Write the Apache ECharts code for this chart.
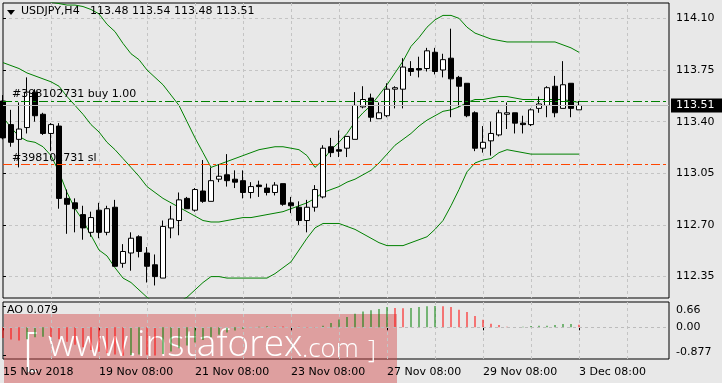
<!DOCTYPE html>
<html><head><meta charset="utf-8">
<script src="https://cdn.jsdelivr.net/npm/echarts@6/dist/echarts.min.js"></script>
<style>html,body{margin:0;padding:0;background:#e8e8e8;}#c{width:722px;height:383px;}</style>
</head><body><div id="c"></div>
<script>
const symbolName = 'USDJPY,H4';
const opens = [113.54,113.38,113.28,113.36,113.60,113.45,113.32,113.37,112.88,112.85,112.77,112.65,112.80,112.65,112.82,112.44,112.51,112.62,112.51,112.43,112.34,112.68,112.73,112.88,112.80,112.93,112.86,113.01,113.04,113.01,113.00,112.92,112.97,112.95,112.92,112.98,112.85,112.82,112.73,112.82,112.89,113.23,113.21,113.22,113.28,113.50,113.56,113.42,113.44,113.62,113.62,113.76,113.76,113.76,113.87,113.75,113.83,113.70,113.66,113.46,113.22,113.27,113.31,113.45,113.46,113.39,113.38,113.49,113.51,113.64,113.49,113.66,113.48];
const highs = [113.58,113.48,113.53,113.70,113.62,113.46,113.39,113.39,112.94,112.88,112.83,112.79,112.85,112.83,112.87,112.57,112.65,112.63,112.55,112.50,112.73,112.83,112.92,112.89,112.95,113.14,113.09,113.11,113.18,113.07,113.07,112.99,113.00,112.98,112.99,112.98,112.89,112.86,112.87,112.97,113.24,113.29,113.34,113.30,113.60,113.64,113.59,113.53,113.66,113.64,113.83,113.81,113.84,113.90,113.90,113.86,114.03,113.71,113.66,113.47,113.37,113.40,113.48,113.53,113.46,113.44,113.49,113.57,113.64,113.71,113.81,113.66,113.54];
const lows = [113.28,113.23,113.09,113.32,113.40,113.31,113.20,112.81,112.64,112.65,112.60,112.62,112.61,112.63,112.42,112.41,112.39,112.48,112.31,112.29,112.34,112.61,112.63,112.81,112.79,112.85,112.86,112.99,112.96,112.95,112.88,112.88,112.89,112.90,112.90,112.83,112.78,112.70,112.65,112.79,112.88,113.16,113.16,113.16,113.28,113.49,113.40,113.42,113.43,113.49,113.49,113.71,113.70,113.74,113.72,113.70,113.43,113.50,113.43,113.20,113.19,113.17,113.30,113.35,113.32,113.32,113.37,113.46,113.43,113.43,113.49,113.43,113.48];
const closes = [113.29,113.26,113.35,113.60,113.44,113.32,113.38,112.88,112.84,112.81,112.68,112.75,112.65,112.81,112.42,112.52,112.61,112.52,112.42,112.35,112.69,112.74,112.87,112.81,112.94,112.86,113.00,113.03,113.00,112.99,112.92,112.96,112.96,112.92,112.97,112.84,112.83,112.73,112.82,112.94,113.22,113.19,113.20,113.30,113.51,113.55,113.43,113.46,113.62,113.63,113.77,113.74,113.75,113.88,113.74,113.82,113.69,113.64,113.44,113.22,113.26,113.32,113.46,113.46,113.39,113.38,113.48,113.52,113.63,113.46,113.65,113.49,113.51];
const bandUpper = [114.32,114.30,114.28,114.26,114.24,114.23,114.21,114.20,114.19,114.19,114.18,114.16,114.13,114.06,114.01,113.93,113.86,113.82,113.75,113.70,113.65,113.58,113.51,113.40,113.29,113.19,113.09,113.11,113.13,113.15,113.17,113.19,113.21,113.22,113.23,113.23,113.22,113.21,113.17,113.09,113.14,113.21,113.26,113.32,113.40,113.46,113.51,113.58,113.65,113.73,113.81,113.91,113.97,114.04,114.09,114.12,114.12,114.10,114.04,114.00,113.98,113.96,113.95,113.94,113.94,113.94,113.94,113.94,113.94,113.94,113.92,113.90,113.87];
const bandMiddle = [113.80,113.78,113.76,113.73,113.71,113.69,113.67,113.64,113.57,113.51,113.45,113.38,113.33,113.26,113.21,113.15,113.09,113.03,112.96,112.92,112.88,112.85,112.82,112.79,112.76,112.73,112.72,112.72,112.73,112.74,112.75,112.75,112.76,112.77,112.78,112.79,112.81,112.83,112.85,112.88,112.92,112.94,112.96,112.99,113.01,113.04,113.07,113.12,113.18,113.24,113.28,113.32,113.37,113.41,113.44,113.47,113.48,113.50,113.53,113.55,113.55,113.56,113.57,113.57,113.56,113.55,113.55,113.55,113.55,113.55,113.55,113.54,113.53];
const bandLower = [113.43,113.36,113.30,113.27,113.26,113.23,113.17,113.06,112.92,112.81,112.73,112.63,112.53,112.49,112.41,112.34,112.31,112.26,112.21,112.17,112.14,112.15,112.18,112.21,112.26,112.31,112.35,112.35,112.34,112.34,112.34,112.34,112.34,112.34,112.37,112.41,112.45,112.53,112.61,112.68,112.71,112.71,112.71,112.69,112.67,112.64,112.61,112.58,112.56,112.56,112.56,112.58,112.60,112.62,112.67,112.73,112.83,112.94,113.06,113.12,113.14,113.15,113.19,113.21,113.20,113.19,113.18,113.18,113.18,113.18,113.18,113.18,113.18];
const aoValues = [-0.33,-0.38,-0.41,-0.37,-0.31,-0.29,-0.30,-0.37,-0.45,-0.54,-0.62,-0.70,-0.76,-0.80,-0.84,-0.877,-0.86,-0.84,-0.85,-0.87,-0.83,-0.75,-0.65,-0.56,-0.47,-0.39,-0.31,-0.23,-0.16,-0.10,-0.05,-0.01,0.02,0.03,0.028,0.024,0.02,0.015,0.01,0.008,0.05,0.13,0.24,0.32,0.42,0.49,0.53,0.57,0.63,0.60,0.59,0.60,0.63,0.65,0.66,0.655,0.63,0.54,0.47,0.35,0.23,0.11,0.07,0.02,0.01,0.015,0.04,0.045,0.05,0.07,0.10,0.105,0.079];
const priceTicks = [112.35,112.70,113.05,113.40,113.75,114.10];
const aoTicks = [0.66,0,-0.877];
const timeTickIndex = [0,12,24,36,48,60,72];
const timeTickLabels = ['15 Nov 2018','19 Nov 08:00','21 Nov 08:00','23 Nov 08:00','27 Nov 08:00','29 Nov 08:00','3 Dec 08:00'];
const gridIndexTicks = [6,12,18,24,30,36,42,48,54,60,66,72,78];
const buyPrice = 113.54;
const slPrice = 113.11;
const buyLabel = '#398102731 buy 1.00';
const slLabel = '#398102731 sl';

const F = 'DejaVu Sans';
const N = closes.length;
const last = N - 1;
const bid = closes[last];
const candleData = closes.map((c, i) => [i, opens[i], c, lows[i], highs[i]]);
const toLine = arr => arr.map((v, i) => [i, v]);
const aoData = aoValues.map((v, i) => [i, v]);
const titleText = symbolName + '   ' + [opens[last], highs[last], lows[last], closes[last]].map(v => v.toFixed(2)).join(' ');
const gridLine = {show: true, lineStyle: {color: '#c4c4c4', type: [3, 3], width: 1}};
const XMAX = 83.25;

const chart = echarts.init(document.getElementById('c'), null, {renderer: 'canvas'});
const bandSeries = (name, arr) => ({
  name, type: 'line', xAxisIndex: 0, yAxisIndex: 0, data: toLine(arr),
  symbol: 'none', showSymbol: false, silent: true, z: 2, clip: true,
  lineStyle: {color: '#008000', width: 1}
});
chart.setOption({
  animation: false,
  backgroundColor: '#e8e8e8',
  textStyle: {fontFamily: F},
  title: [
    {text: titleText, left: 21, top: 6, padding: 0, textStyle: {fontSize: 11, fontWeight: 'normal', color: '#000', fontFamily: F}},
    {text: 'AO ' + aoValues[last].toFixed(3), left: 7, top: 305, padding: 0, textStyle: {fontSize: 11, fontWeight: 'normal', color: '#000', fontFamily: F}}
  ],
  grid: [
    {left: 3, top: 3, width: 666, height: 295, show: true, borderColor: '#000', borderWidth: 1, backgroundColor: 'transparent', containLabel: false, outerBoundsMode: 'none'},
    {left: 3, top: 302, width: 666, height: 57, show: true, borderColor: '#000', borderWidth: 1, backgroundColor: 'transparent', containLabel: false, outerBoundsMode: 'none'}
  ],
  xAxis: [
    {gridIndex: 0, type: 'value', min: 0, max: XMAX, axisLine: {show: false}, axisTick: {show: false, customValues: gridIndexTicks}, axisLabel: {show: false}, splitLine: gridLine},
    {gridIndex: 1, type: 'value', min: 0, max: XMAX, position: 'bottom', axisLine: {show: false},
     axisTick: {show: true, length: 3, customValues: timeTickIndex, lineStyle: {color: '#000'}},
     axisLabel: {show: true, customValues: timeTickIndex, align: 'left', margin: 8, color: '#000', fontSize: 11, fontFamily: F,
       formatter: v => timeTickLabels[timeTickIndex.indexOf(Math.round(v))] || ''},
     splitLine: {show: false}},
    {gridIndex: 1, type: 'value', min: 0, max: XMAX, position: 'top', axisLine: {show: false}, axisTick: {show: false, customValues: gridIndexTicks}, axisLabel: {show: false}, splitLine: gridLine}
  ],
  yAxis: [
    {gridIndex: 0, type: 'value', min: 112.205, max: 114.204, position: 'right', scale: true,
     axisLine: {show: false},
     axisTick: {show: true, length: 3, customValues: priceTicks, lineStyle: {color: '#000'}},
     axisLabel: {show: true, customValues: priceTicks, margin: 7, color: '#000', fontSize: 11, fontFamily: F, formatter: v => v.toFixed(2)},
     splitLine: gridLine},
    {gridIndex: 1, type: 'value', min: -0.981, max: 0.783, position: 'right',
     axisLine: {show: false},
     axisTick: {show: true, length: 3, customValues: aoTicks, lineStyle: {color: '#000'}},
     axisLabel: {show: true, customValues: aoTicks, margin: 7, color: '#000', fontSize: 11, fontFamily: F,
       formatter: v => v === 0 ? '{m|0.00}' : (v > 0 ? '{t|' + v + '}' : '{b|' + v + '}'),
       rich: {m: {fontSize: 11, fontFamily: F, color: '#000'}, t: {fontSize: 11, fontFamily: F, color: '#000', padding: [9, 0, 0, 0]}, b: {fontSize: 11, fontFamily: F, color: '#000', padding: [0, 0, 6, 0]}}},
     splitLine: {show: false}}
  ],
  series: [
    bandSeries('upper', bandUpper),
    bandSeries('middle', bandMiddle),
    bandSeries('lower', bandLower),
    {
      name: symbolName, type: 'candlestick', xAxisIndex: 0, yAxisIndex: 0, data: candleData,
      encode: {x: 0, y: [1, 2, 3, 4]}, barWidth: 5, z: 3, silent: true, clip: true,
      itemStyle: {color: '#ffffff', color0: '#000000', borderColor: '#000000', borderColor0: '#000000', borderWidth: 1},
      markLine: {
        silent: true, symbol: ['none', 'none'], animation: false, precision: 2,
        data: [
          {yAxis: bid, lineStyle: {color: '#bcbcbc', type: 'solid', width: 1},
           label: {show: true, position: 'end', formatter: bid.toFixed(2), backgroundColor: '#000', color: '#fff', padding: [2, 8, 1, 5], distance: 2, fontSize: 11, fontFamily: F}},
          {yAxis: buyPrice, lineStyle: {color: '#008000', type: [9, 3, 3, 3], width: 1},
           label: {show: true, position: 'insideStartTop', formatter: buyLabel, color: '#000', distance: [9, 1], fontSize: 11, fontFamily: F}},
          {yAxis: slPrice, lineStyle: {color: '#ff4500', type: [9, 3, 3, 3], width: 1},
           label: {show: true, position: 'insideStartTop', formatter: slLabel, color: '#000', distance: [9, 1], fontSize: 11, fontFamily: F}}
        ]
      }
    },
    {
      name: 'AO', type: 'bar', xAxisIndex: 1, yAxisIndex: 1, data: aoData, barWidth: 1, silent: true, z: 3,
      itemStyle: {color: p => (p.dataIndex > 0 && aoValues[p.dataIndex] > aoValues[p.dataIndex - 1]) ? '#008000' : '#ff0000'},
      markLine: {silent: true, symbol: ['none', 'none'], animation: false,
        data: [{yAxis: 0, lineStyle: {color: '#bcbcbc', type: [3, 3], width: 1}, label: {show: false}}]}
    }
  ],
  graphic: [
    {type: 'polygon', shape: {points: [[7, 10], [15, 10], [11, 15]]}, style: {fill: '#000'}, z: 10},
    {type: 'group', z: 100, children: [
      {type: 'rect', shape: {x: 4, y: 314, width: 393, height: 69}, style: {fill: 'rgba(210,70,70,0.45)'}},
      {type: 'text', style: {x: 23, y: 352, text: '[', fill: '#ffffff', font: '300 46px "Open Sans"', verticalAlign: 'middle'}},
      {type: 'text', style: {x: 48, y: 345, text: 'www.instaforex', fill: '#ffffff', font: '300 37px "Open Sans"', verticalAlign: 'middle'}},
      {type: 'text', style: {x: 302, y: 350, text: '.com', fill: '#ffffff', font: '300 26px "Open Sans"', verticalAlign: 'middle'}},
      {type: 'text', style: {x: 368, y: 351, text: ']', fill: '#ffffff', font: '300 25px "Open Sans"', verticalAlign: 'middle'}}
    ]}
  ]
});
</script></body></html>
